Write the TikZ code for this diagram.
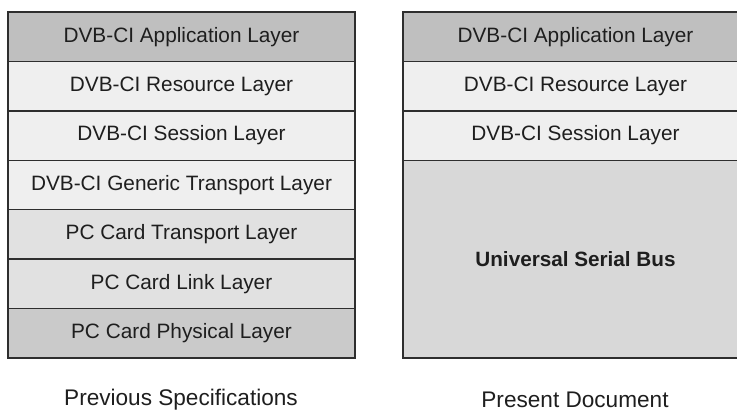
\documentclass[tikz,border=0pt]{standalone}
\usepackage{fontspec}
\setmainfont{Liberation Sans}
\definecolor{edge}{HTML}{2E2E2E}
\definecolor{appfill}{HTML}{BFBFBF}
\definecolor{lightfill}{HTML}{EFEFEF}
\definecolor{midfill}{HTML}{E1E1E1}
\definecolor{physfill}{HTML}{CACACA}
\definecolor{usbfill}{HTML}{D8D8D8}
\definecolor{txt}{HTML}{1E1E1E}
\tikzset{
  layer/.style={draw=edge, line width=1.5pt, rectangle, anchor=north west,
    outer sep=0pt, minimum height=49.43pt, inner sep=0pt, text=txt,
    font=\fontsize{20.8pt}{24pt}\selectfont},
  leftlayer/.style={layer, minimum width=347pt},
  rightlayer/.style={layer, minimum width=345pt},
  caption/.style={text=txt, font=\fontsize{22.6pt}{26pt}\selectfont}
}
\begin{document}
\begin{tikzpicture}[x=1pt,y=1pt]
  \useasboundingbox (0,0) rectangle (737,-412);
  \clip (0,0) rectangle (737,-412);
  % previous specifications: seven-layer stack
  \node[leftlayer, fill=appfill]   (l1) at (8,-12) {DVB-CI Application Layer};
  \node[leftlayer, fill=lightfill] (l2) at (l1.south west) {DVB-CI Resource Layer};
  \node[leftlayer, fill=lightfill] (l3) at (l2.south west) {DVB-CI Session Layer};
  \node[leftlayer, fill=lightfill] (l4) at (l3.south west) {DVB-CI Generic Transport Layer};
  \node[leftlayer, fill=midfill]   (l5) at (l4.south west) {PC Card Transport Layer};
  \node[leftlayer, fill=midfill]   (l6) at (l5.south west) {PC Card Link Layer};
  \node[leftlayer, fill=physfill]  (l7) at (l6.south west) {PC Card Physical Layer};
  % present document: DVB-CI layers over USB
  \node[rightlayer, fill=appfill]   (r1) at (403,-12) {DVB-CI Application Layer};
  \node[rightlayer, fill=lightfill] (r2) at (r1.south west) {DVB-CI Resource Layer};
  \node[rightlayer, fill=lightfill] (r3) at (r2.south west) {DVB-CI Session Layer};
  \node[rightlayer, fill=usbfill, minimum height=197.7pt,
        font=\fontsize{20.7pt}{24pt}\selectfont\bfseries] (r4) at (r3.south west) {Universal Serial Bus};
  % captions
  \node[caption] (capL) at (181,-400) {Previous Specifications};
  \node[caption] (capR) at (575,-400) {Present Document};
\end{tikzpicture}
\end{document}
